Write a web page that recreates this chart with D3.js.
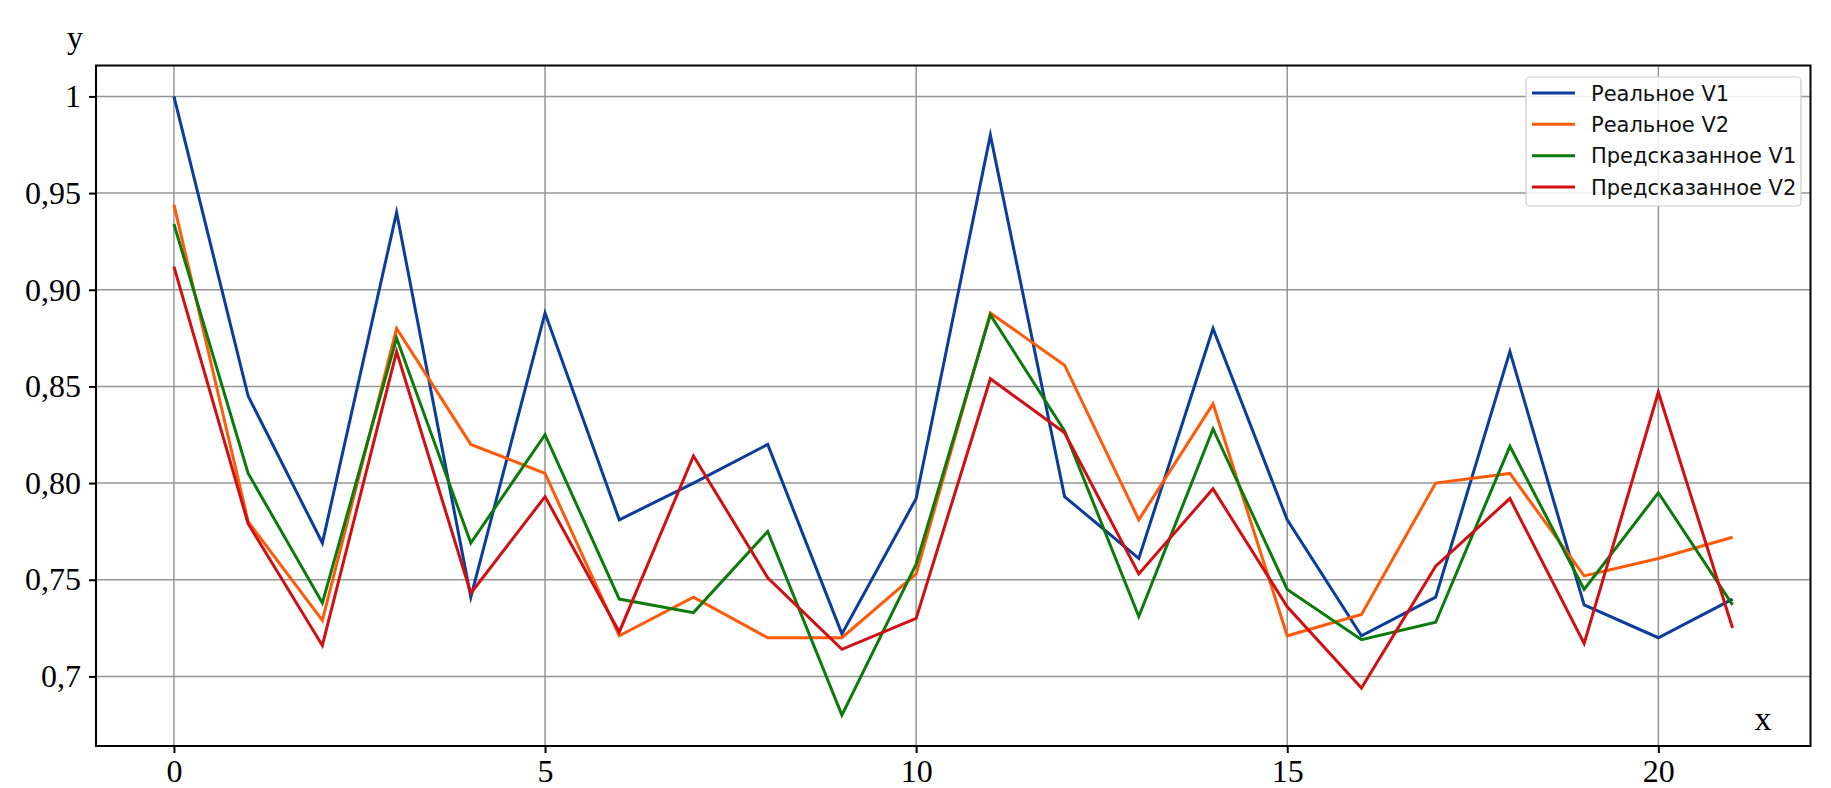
<!DOCTYPE html>
<html>
<head>
<meta charset="utf-8">
<script src="https://cdn.jsdelivr.net/npm/d3@7"></script>
<style>
  html, body { margin: 0; padding: 0; background: #ffffff; }
  svg { display: block; }
</style>
</head>
<body>
<svg id="chart" width="1831" height="788"></svg>
<script>
// ---------- data ----------
const xValues = [0, 1, 2, 3, 4, 5, 6, 7, 8, 9, 10, 11, 12, 13, 14, 15, 16, 17, 18, 19, 20, 21];

const realV1 = [1.000, 0.845, 0.769, 0.940, 0.741, 0.888, 0.781, 0.800, 0.820, 0.722, 0.792,
                0.980, 0.793, 0.761, 0.880, 0.781, 0.721, 0.741, 0.868, 0.737, 0.720, 0.740];
const realV2 = [0.944, 0.780, 0.729, 0.880, 0.820, 0.805, 0.721, 0.741, 0.720, 0.720, 0.753,
                0.888, 0.861, 0.781, 0.841, 0.721, 0.732, 0.800, 0.805, 0.752, 0.761, 0.772];
const predV1 = [0.934, 0.805, 0.738, 0.875, 0.769, 0.825, 0.740, 0.733, 0.775, 0.680, 0.758,
                0.887, 0.827, 0.731, 0.828, 0.745, 0.719, 0.728, 0.819, 0.745, 0.795, 0.737];
const predV2 = [0.912, 0.779, 0.716, 0.868, 0.743, 0.793, 0.723, 0.814, 0.751, 0.714, 0.730,
                0.854, 0.826, 0.753, 0.797, 0.736, 0.694, 0.757, 0.792, 0.717, 0.847, 0.725];

const seriesNames = ["Реальное V1", "Реальное V2", "Предсказанное V1", "Предсказанное V2"];
const seriesColors = ["#0a3d9c", "#ff5a08", "#0b7b0b", "#d20f12"];

const xTickValues = [0, 5, 10, 15, 20];
const xTickLabels = ["0", "5", "10", "15", "20"];
const yTickValues = [0.70, 0.75, 0.80, 0.85, 0.90, 0.95, 1.00];
const yTickLabels = ["0,7", "0,75", "0,80", "0,85", "0,90", "0,95", "1"];

const xLabel = "x";
const yLabel = "y";

// ---------- layout ----------
const svg = d3.select("#chart");
const L = 96, R = 1810.5, T = 65.5, B = 746;

const x = d3.scaleLinear().domain([-1.05, 22.05]).range([L, R]);
const y = d3.scaleLinear().domain([0.664, 1.016]).range([B, T]);

const serif = "'Liberation Serif', 'Times New Roman', serif";
const sans = "'DejaVu Sans', sans-serif";

// plot background
svg.append("rect").attr("x", L).attr("y", T).attr("width", R - L).attr("height", B - T)
  .attr("fill", "#ffffff");

// grid lines
const grid = svg.append("g");
grid.selectAll("line.gy").data(yTickValues).enter().append("line")
  .attr("x1", L).attr("x2", R)
  .attr("y1", d => y(d)).attr("y2", d => y(d))
  .attr("stroke", "#959595").attr("stroke-width", 1.5);
grid.selectAll("line.gx").data(xTickValues).enter().append("line")
  .attr("y1", T).attr("y2", B)
  .attr("x1", d => x(d)).attr("x2", d => x(d))
  .attr("stroke", "#959595").attr("stroke-width", 1.5);

// series lines
const allSeries = [realV1, realV2, predV1, predV2];
const line = d3.line().x((d, i) => x(xValues[i])).y(d => y(d));
allSeries.forEach((s, k) => {
  svg.append("path").datum(s)
    .attr("d", line)
    .attr("fill", "none")
    .attr("stroke", seriesColors[k])
    .attr("stroke-width", 3)
    .attr("stroke-linejoin", "miter")
    .attr("stroke-miterlimit", 10);
});

// axes
const xAxis = d3.axisBottom(x).tickValues(xTickValues)
  .tickFormat((d, i) => xTickLabels[i]).tickSize(7).tickPadding(6);
const yAxis = d3.axisLeft(y).tickValues(yTickValues)
  .tickFormat((d, i) => yTickLabels[i]).tickSize(7).tickPadding(8);

const gx = svg.append("g").attr("transform", `translate(0,${B})`).call(xAxis);
const gy = svg.append("g").attr("transform", `translate(${L},0)`).call(yAxis);
[gx, gy].forEach(g => {
  g.select(".domain").remove();
  g.selectAll(".tick line").attr("stroke", "#000").attr("stroke-width", 2);
  g.selectAll(".tick text").attr("font-family", serif).attr("font-size", 32).attr("fill", "#000");
});

// frame
svg.append("rect").attr("x", L).attr("y", T).attr("width", R - L).attr("height", B - T)
  .attr("fill", "none").attr("stroke", "#000").attr("stroke-width", 2);

// axis labels
svg.append("text").attr("x", 75).attr("y", 48).attr("text-anchor", "middle")
  .attr("font-family", serif).attr("font-size", 32).attr("fill", "#000").text(yLabel);
svg.append("text").attr("x", 1763).attr("y", 730).attr("text-anchor", "middle")
  .attr("font-family", serif).attr("font-size", 34).attr("fill", "#000").text(xLabel);

// legend
const lg = svg.append("g");
lg.append("rect").attr("x", 1526).attr("y", 77).attr("width", 275).attr("height", 129)
  .attr("rx", 4).attr("ry", 4)
  .attr("fill", "#ffffff").attr("fill-opacity", 0.85)
  .attr("stroke", "#cccccc").attr("stroke-width", 1.2);
const rowY = d3.scaleLinear().domain([0, 3]).range([93, 187]);
seriesNames.forEach((name, k) => {
  lg.append("line").attr("x1", 1532).attr("x2", 1575)
    .attr("y1", rowY(k)).attr("y2", rowY(k))
    .attr("stroke", seriesColors[k]).attr("stroke-width", 3);
  lg.append("text").attr("x", 1591).attr("y", rowY(k)).attr("dy", "0.36em")
    .attr("font-family", sans).attr("font-size", 21).attr("fill", "#111").text(name);
});
</script>
</body>
</html>
